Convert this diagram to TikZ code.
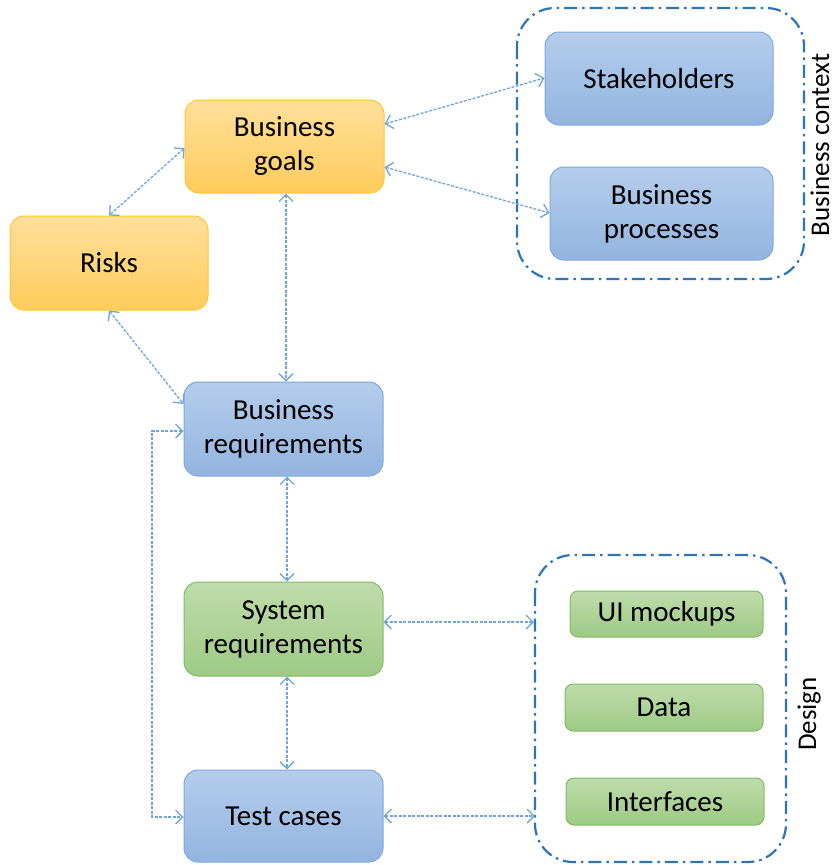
\documentclass[tikz,border=0pt]{standalone}
\usepackage{fontspec}
\setmainfont{Carlito}
\usetikzlibrary{arrows.meta,shadings}
\definecolor{obord}{HTML}{FFC72C}
\definecolor{otop}{HTML}{FFDF9A}
\definecolor{obot}{HTML}{FFCC5C}
\definecolor{bbord}{HTML}{7FA8DB}
\definecolor{btop}{HTML}{B5CDEB}
\definecolor{bbot}{HTML}{93B4E0}
\definecolor{gbord}{HTML}{84BA63}
\definecolor{gtop}{HTML}{BEDCAC}
\definecolor{gbot}{HTML}{9ECA84}
\definecolor{arr}{HTML}{6FA5DC}
\definecolor{cont}{HTML}{2E75B6}
\tikzset{
  x=1pt,y=-1pt,
  box/.style={rounded corners=14pt,line width=1pt,align=center,inner sep=0pt,
    font=\fontsize{29}{34}\selectfont},
  obox/.style={box,draw=obord,top color=otop,bottom color=obot},
  bbox/.style={box,draw=bbord,top color=btop,bottom color=bbot},
  gbox/.style={box,draw=gbord,top color=gtop,bottom color=gbot,rounded corners=8pt},
  link/.style={draw=arr,line width=1.3pt,dash pattern=on 3pt off 1.5pt,
    {Straight Barb[length=7pt,width=14pt,line width=1.3pt]}-{Straight Barb[length=7pt,width=14pt,line width=1.3pt]}},
  container/.style={draw=cont,line width=2.2pt,rounded corners=38pt,
    dash pattern=on 13pt off 5pt on 2.5pt off 5pt},
  sidelabel/.style={rotate=90,font=\fontsize{27}{34}\selectfont,inner sep=0pt,anchor=base}
}
\begin{document}
\begin{tikzpicture}
\useasboundingbox (0,0) rectangle (837,865);
% containers
\draw[container] (517,8) rectangle (804,279);
\draw[container] (535,555) rectangle (786,862);
\node[sidelabel] (bctx) at (829,145) {Business context};
\node[sidelabel] (dsgn) at (816,714) {Design};
% nodes
\node[obox,minimum width=199pt,minimum height=93pt] (goals) at (284.5,146.5) {Business\\goals};
\node[obox,minimum width=198pt,minimum height=94pt] (risks) at (109,263) {Risks};
\node[bbox,minimum width=199pt,minimum height=94pt] (breq) at (283.5,429) {Business\\requirements};
\node[gbox,rounded corners=14pt,minimum width=199pt,minimum height=94pt] (sreq) at (283.5,629) {System\\requirements};
\node[bbox,minimum width=199pt,minimum height=92pt] (tc) at (283.5,816) {Test cases};
\node[bbox,minimum width=228pt,minimum height=93pt] (stake) at (659,78.5) {Stakeholders};
\node[bbox,minimum width=223pt,minimum height=93pt] (proc) at (661.5,213.5) {Business\\processes};
\node[gbox,minimum width=193pt,minimum height=46pt] (ui) at (666.5,614) {UI mockups};
\node[gbox,minimum width=198pt,minimum height=47pt] (data) at (664,707.5) {Data};
\node[gbox,minimum width=198pt,minimum height=47pt] (intf) at (665,801.5) {Interfaces};
% design box anchor coordinates
\coordinate (dsr) at (534,622);
\coordinate (dtc) at (535,816);
% links
\draw[link] (goals.west |- 0,148) -- (risks.north);
\draw[link] (goals.east |- 0,124) -- (stake.west |- 0,78);
\draw[link] (goals.east |- 0,167) -- (proc.west |- 0,213);
\draw[link] (goals.south -| 286,0) -- (breq.north -| 286,0);
\draw[link] (risks.south) -- (breq.west |- 0,404);
\draw[link] (breq.south -| 287,0) -- (sreq.north -| 287,0);
\draw[link] (sreq.south -| 287,0) -- (tc.north -| 287,0);
\draw[link] (sreq.east |- dsr) -- (dsr);
\draw[link] (tc.east |- dtc) -- (dtc);
\draw[link] (breq.west |- 0,431) -- (152,431) -- (152,817) -- (tc.west |- 0,817);
\end{tikzpicture}
\end{document}
